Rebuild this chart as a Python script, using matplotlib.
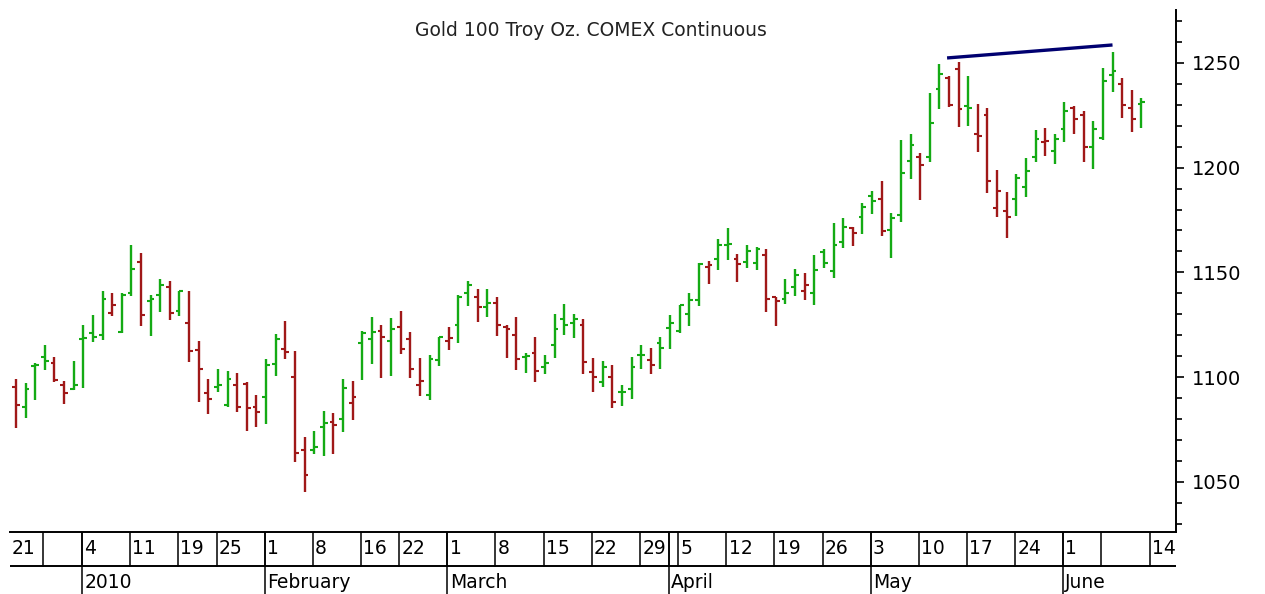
import numpy as np
import matplotlib
matplotlib.use("Agg")
import matplotlib.pyplot as plt
from matplotlib.ticker import MultipleLocator

plt.rcParams['font.family'] = ['DejaVu Sans']

# ===============================
# Daily bars (trading-day index), Dec 2009 - Jun 2010
# ===============================
OPEN = [1095.1, 1085.6, 1105.5, 1109.4, 1106.9, 1096.0, 1094.5, 1118.0, 1120.9, 1120.0,
        1130.4, 1121.7, 1140.0, 1155.0, 1136.5, 1139.2, 1143.0, 1131.6, 1125.7, 1113.0,
        1092.2, 1095.1, 1086.7, 1096.0, 1096.5, 1085.6, 1090.3, 1106.0, 1113.3, 1099.9,
        1065.0, 1065.0, 1076.0, 1078.7, 1080.0, 1087.5, 1116.1, 1118.0, 1122.0, 1117.2,
        1123.8, 1118.0, 1096.2, 1091.5, 1108.0, 1117.2, 1124.9, 1140.0, 1138.0, 1133.3,
        1135.2, 1124.0, 1120.0, 1109.8, 1111.4, 1105.0, 1115.3, 1127.7, 1126.0, 1125.0,
        1102.6, 1097.8, 1100.0, 1093.0, 1094.2, 1110.5, 1108.0, 1116.4, 1123.3, 1122.0,
        1130.0, 1136.8, 1152.7, 1156.2, 1163.1, 1156.2, 1155.0, 1154.3, 1158.3, 1138.0,
        1137.5, 1143.2, 1141.3, 1140.0, 1159.6, 1150.8, 1164.7, 1171.0, 1176.6, 1186.5,
        1185.0, 1170.0, 1177.4, 1203.4, 1205.0, 1205.0, 1237.4, 1243.0, 1247.0, 1229.5,
        1216.0, 1225.0, 1180.6, 1179.5, 1185.0, 1190.9, 1205.0, 1212.1, 1208.0, 1218.5,
        1228.3, 1225.0, 1210.0, 1214.3, 1244.3, 1240.0, 1228.3, 1230.4]

HIGH = [1099.1, 1097.3, 1106.9, 1115.3, 1109.7, 1098.3, 1107.8, 1124.9, 1129.7, 1141.3,
        1140.3, 1140.3, 1163.1, 1159.4, 1139.2, 1146.8, 1146.1, 1141.3, 1141.3, 1117.4,
        1099.1, 1103.9, 1103.1, 1102.1, 1097.8, 1091.5, 1108.6, 1120.4, 1127.0, 1112.6,
        1071.5, 1074.2, 1084.0, 1083.0, 1099.1, 1098.3, 1122.2, 1128.9, 1125.0, 1128.1,
        1131.7, 1121.4, 1109.0, 1110.6, 1119.3, 1124.1, 1139.2, 1146.0, 1142.1, 1142.1,
        1138.4, 1124.9, 1128.6, 1111.7, 1119.3, 1110.6, 1130.1, 1134.8, 1130.1, 1127.7,
        1108.9, 1107.8, 1105.8, 1096.2, 1109.7, 1115.3, 1113.7, 1119.3, 1129.6, 1134.4,
        1140.3, 1154.6, 1155.6, 1165.9, 1171.0, 1158.6, 1163.1, 1162.3, 1161.2, 1138.4,
        1147.0, 1151.6, 1149.9, 1158.3, 1161.3, 1173.7, 1175.8, 1171.8, 1183.3, 1189.0,
        1193.8, 1178.5, 1213.2, 1215.9, 1207.2, 1235.8, 1249.5, 1243.8, 1250.4, 1243.8,
        1230.4, 1228.4, 1198.9, 1188.2, 1196.8, 1204.5, 1218.0, 1218.8, 1215.9, 1231.2,
        1229.5, 1227.2, 1222.5, 1247.4, 1255.1, 1242.7, 1237.1, 1233.1]

LOW = [1075.5, 1080.3, 1089.1, 1103.4, 1097.8, 1087.2, 1093.8, 1095.0, 1116.9, 1117.7,
       1129.3, 1120.9, 1138.9, 1124.4, 1119.6, 1131.3, 1127.3, 1129.2, 1107.4, 1088.3,
       1082.4, 1093.0, 1085.6, 1083.5, 1074.0, 1076.0, 1077.6, 1100.5, 1108.5, 1059.3,
       1045.0, 1063.3, 1062.3, 1063.3, 1073.6, 1079.5, 1098.6, 1106.2, 1099.4, 1100.5,
       1111.0, 1099.4, 1091.0, 1089.0, 1105.3, 1113.0, 1116.1, 1134.0, 1126.5, 1128.6,
       1119.8, 1109.0, 1103.4, 1101.8, 1097.8, 1101.5, 1109.3, 1120.1, 1118.5, 1101.5,
       1093.0, 1095.1, 1085.4, 1086.4, 1089.4, 1103.7, 1101.5, 1103.7, 1113.3, 1120.9,
       1124.4, 1133.9, 1144.4, 1151.1, 1155.9, 1145.5, 1152.3, 1151.1, 1131.2, 1124.4,
       1134.9, 1138.7, 1136.8, 1134.5, 1152.3, 1147.2, 1161.5, 1162.6, 1168.3, 1177.9,
       1167.4, 1156.7, 1174.2, 1194.4, 1184.6, 1202.9, 1227.9, 1228.8, 1219.3, 1220.1,
       1207.7, 1187.8, 1176.3, 1166.6, 1177.1, 1185.8, 1202.9, 1205.7, 1201.8, 1212.4,
       1216.1, 1202.9, 1199.2, 1213.2, 1236.3, 1223.9, 1217.2, 1219.1]

CLOSE = [1086.7, 1094.2, 1105.8, 1107.7, 1098.6, 1092.2, 1096.2, 1118.8, 1119.2, 1137.1,
         1134.4, 1139.2, 1151.5, 1129.7, 1137.1, 1144.0, 1130.4, 1141.1, 1112.5, 1103.7,
         1089.5, 1096.2, 1098.9, 1085.6, 1085.0, 1083.5, 1105.8, 1118.0, 1112.2, 1063.6,
         1053.3, 1066.8, 1077.9, 1077.0, 1095.0, 1090.3, 1120.9, 1121.5, 1119.0, 1123.0,
         1113.3, 1103.7, 1098.1, 1108.5, 1119.3, 1118.6, 1138.4, 1144.0, 1133.3, 1135.2,
         1124.9, 1122.8, 1108.5, 1110.1, 1102.9, 1106.6, 1123.0, 1124.9, 1127.7, 1107.4,
         1100.2, 1105.0, 1088.3, 1093.0, 1105.0, 1110.5, 1105.8, 1113.7, 1126.0, 1134.4,
         1136.8, 1153.8, 1153.3, 1163.1, 1163.4, 1153.8, 1160.2, 1161.0, 1137.3, 1136.3,
         1140.2, 1148.8, 1144.0, 1151.0, 1154.6, 1163.1, 1171.8, 1168.7, 1181.4, 1184.2,
         1169.8, 1175.8, 1197.6, 1210.8, 1201.3, 1221.5, 1244.8, 1229.9, 1228.0, 1228.4,
         1215.0, 1193.6, 1189.0, 1176.3, 1194.9, 1198.6, 1213.7, 1212.9, 1213.5, 1227.2,
         1223.1, 1209.7, 1218.3, 1241.6, 1246.3, 1229.9, 1223.3, 1231.2]

PREV_CLOSE = 1093.0  # close before first bar (bar colour = close vs previous close)

# trend line across the two tops (bar index, price)
TREND_X = [96.8, 114]
TREND_Y = [1252.4, 1258.6]

# date rows: week labels at trading-day index, month labels
WEEK_POS = [3, 7, 12, 17, 21, 26, 31, 36, 40, 45, 50, 55, 60, 65, 68, 69, 74, 79,
            84, 89, 94, 99, 104, 109, 113, 118]
WEEK_LABELS = ["", "4", "11", "19", "25", "1", "8", "16", "22", "1", "8", "15", "22",
               "29", "", "5", "12", "19", "26", "3", "10", "17", "24", "1", "", "14"]
MONTH_POS = [7, 26, 45, 68, 89, 109]
MONTH_LABELS = ["2010", "February", "March", "April", "May", "June"]

UP_COLOR = "#14aa14"
DOWN_COLOR = "#a01818"

# ===============================
# Figure
# ===============================
W, H = 1265, 594
fig = plt.figure(figsize=(W / 100, H / 100), dpi=100)
fig.patch.set_facecolor("white")

ax = fig.add_axes([10 / W, 62 / H, 1166 / W, 522 / H])

o = np.array(OPEN)
h = np.array(HIGH)
l = np.array(LOW)
c = np.array(CLOSE)
x = np.arange(len(c))
prev = np.concatenate([[PREV_CLOSE], c[:-1]])
colors = [UP_COLOR if cc >= pc else DOWN_COLOR for cc, pc in zip(c, prev)]

ax.vlines(x, l, h, colors=colors, lw=1.7)
ax.hlines(o, x - 0.4, x, colors=colors, lw=1.5)
ax.hlines(c, x, x + 0.4, colors=colors, lw=1.5)

ax.plot(TREND_X, TREND_Y, color="#000070", lw=2.4, solid_capstyle="butt")

ax.set_xlim(-0.62, 120.6)
ax.set_ylim(1026, 1275.3)

for side in ["top", "left"]:
    ax.spines[side].set_visible(False)
ax.spines["right"].set_linewidth(1.4)
ax.spines["bottom"].set_linewidth(1.4)
ax.set_xticks([])
ax.yaxis.tick_right()
ax.yaxis.set_major_locator(MultipleLocator(50))
ax.yaxis.set_minor_locator(MultipleLocator(10))
ax.tick_params(axis="y", which="major", length=6, width=1.2, pad=5.5, labelsize=14)
ax.tick_params(axis="y", which="minor", length=4, width=1.2)

fig.text(591 / W, 1 - 30 / H, "Gold 100 Troy Oz. COMEX Continuous",
         ha="center", va="center", fontsize=13.5, color="#222222")

# ===============================
# Date rows under the chart
# ===============================
dax = fig.add_axes([10 / W, 0, 1166 / W, 62 / H])
dax.set_xlim(-0.62, 120.6)
dax.set_ylim(0, 62)
dax.axis("off")
dax.axhline(28, color="black", lw=1.4)

for pos, lab in zip(WEEK_POS, WEEK_LABELS):
    dax.plot([pos - 0.15, pos - 0.15], [28, 62], color="black", lw=1.1)
    dax.text(pos + 0.1, 45, lab, ha="left", va="center", fontsize=13.5)
dax.text(-0.5, 45, "21", ha="left", va="center", fontsize=13.5)

for pos, lab in zip(MONTH_POS, MONTH_LABELS):
    dax.plot([pos - 0.15, pos - 0.15], [0, 62], color="black", lw=1.1)
    dax.text(pos + 0.1, 11, lab, ha="left", va="center", fontsize=13.5)

fig.savefig("out.png", dpi=100)
